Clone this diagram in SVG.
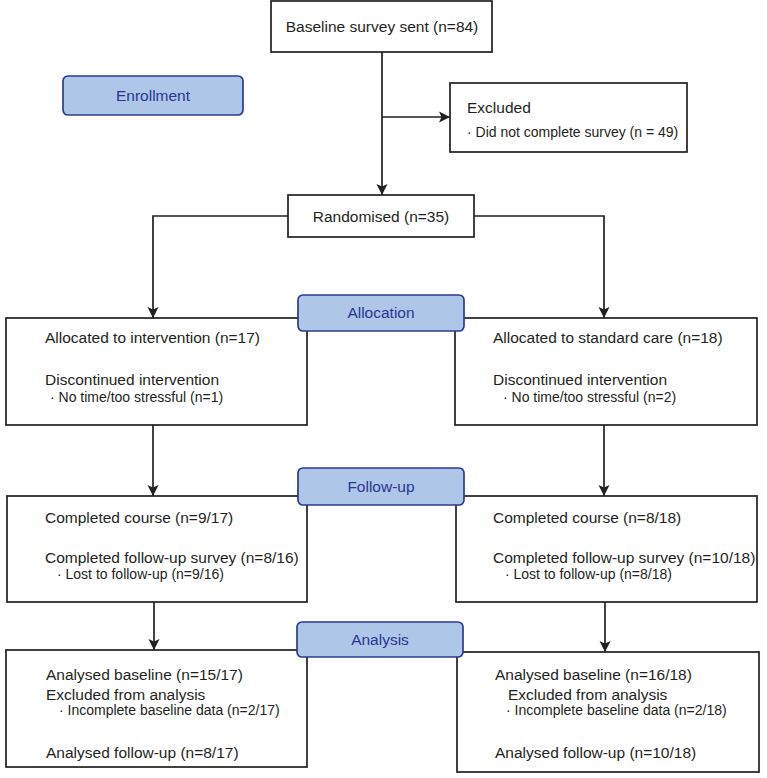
<svg xmlns="http://www.w3.org/2000/svg" width="767" height="778" viewBox="0 0 767 778">
<style>
.box{fill:#fff;stroke:#231f20;stroke-width:1.7}
.pill{fill:#aec6e8;stroke:#2e3a8c;stroke-width:1.7}
.t{font-family:"Liberation Sans",Arial,sans-serif;font-size:15.5px;fill:#231f20}
.s{font-family:"Liberation Sans",Arial,sans-serif;font-size:14px;fill:#231f20}
.p{font-family:"Liberation Sans",Arial,sans-serif;font-size:15.5px;fill:#2b3590;text-anchor:middle}
.c{text-anchor:middle}
.ln{fill:none;stroke:#231f20;stroke-width:1.7}
</style>
<defs>
<marker id="ah" markerUnits="userSpaceOnUse" markerWidth="12" markerHeight="12" refX="11" refY="6" orient="auto">
<path d="M0,0.5 L11,6 L0,11.5 L2.5,6 Z" fill="#231f20"/>
</marker>
</defs>
<rect width="767" height="778" fill="#fff"/>
<g id="connectors">
<path class="ln" d="M382,52 V195" marker-end="url(#ah)"/>
<path class="ln" d="M382,117 H450" marker-end="url(#ah)"/>
<path class="ln" d="M288,216 H153 V318" marker-end="url(#ah)"/>
<path class="ln" d="M474,216 H604 V318" marker-end="url(#ah)"/>
<path class="ln" d="M153,425 V496" marker-end="url(#ah)"/>
<path class="ln" d="M604,425 V496" marker-end="url(#ah)"/>
<path class="ln" d="M154,602 V650" marker-end="url(#ah)"/>
<path class="ln" d="M605,602 V652" marker-end="url(#ah)"/>
</g>
<g id="baseline">
<rect class="box" x="271" y="1" width="221" height="51"/>
<text class="t c" x="382" y="32">Baseline survey sent (n=84)</text>
</g>
<g id="enrollment">
<rect class="pill" x="63" y="76" width="180" height="39" rx="5"/>
<text class="p" x="153" y="101">Enrollment</text>
</g>
<g id="excluded">
<rect class="box" x="450" y="83" width="237" height="69"/>
<text class="t" x="467" y="113">Excluded</text>
<text class="s" x="467" y="137">· Did not complete survey (n = 49)</text>
</g>
<g id="randomised">
<rect class="box" x="288" y="195" width="186" height="42"/>
<text class="t c" x="381" y="222">Randomised (n=35)</text>
</g>
<g id="alloc-left">
<rect class="box" x="6" y="318" width="301" height="107"/>
<text class="t" x="45" y="343">Allocated to intervention (n=17)</text>
<text class="t" x="45" y="385">Discontinued intervention</text>
<text class="s" x="50" y="402">· No time/too stressful (n=1)</text>
</g>
<g id="alloc-right">
<rect class="box" x="455" y="318" width="302" height="107"/>
<text class="t" x="493" y="343">Allocated to standard care (n=18)</text>
<text class="t" x="493" y="385">Discontinued intervention</text>
<text class="s" x="503" y="402">· No time/too stressful (n=2)</text>
</g>
<g id="allocation">
<rect class="pill" x="298" y="295" width="166" height="36" rx="5"/>
<text class="p" x="381" y="318">Allocation</text>
</g>
<g id="follow-left">
<rect class="box" x="7" y="496" width="300" height="106"/>
<text class="t" x="45" y="523">Completed course (n=9/17)</text>
<text class="t" x="45" y="563">Completed follow-up survey (n=8/16)</text>
<text class="s" x="57" y="579">· Lost to follow-up (n=9/16)</text>
</g>
<g id="follow-right">
<rect class="box" x="456" y="496" width="301" height="106"/>
<text class="t" x="493" y="523">Completed course (n=8/18)</text>
<text class="t" x="493" y="563">Completed follow-up survey (n=10/18)</text>
<text class="s" x="505" y="579">· Lost to follow-up (n=8/18)</text>
</g>
<g id="followup">
<rect class="pill" x="298" y="468" width="166" height="37" rx="5"/>
<text class="p" x="381" y="492">Follow-up</text>
</g>
<g id="analysis-left">
<rect class="box" x="6" y="650" width="301" height="117"/>
<text class="t" x="46" y="680">Analysed baseline (n=15/17)</text>
<text class="t" x="46" y="700">Excluded from analysis</text>
<text class="s" x="59" y="715">· Incomplete baseline data (n=2/17)</text>
<text class="t" x="46" y="758">Analysed follow-up (n=8/17)</text>
</g>
<g id="analysis-right">
<rect class="box" x="457" y="652" width="302" height="120"/>
<text class="t" x="495" y="680">Analysed baseline (n=16/18)</text>
<text class="t" x="508" y="700">Excluded from analysis</text>
<text class="s" x="506" y="715">· Incomplete baseline data (n=2/18)</text>
<text class="t" x="495" y="758">Analysed follow-up (n=10/18)</text>
</g>
<g id="analysis">
<rect class="pill" x="297" y="622" width="166" height="35" rx="5"/>
<text class="p" x="380" y="645">Analysis</text>
</g>
</svg>
